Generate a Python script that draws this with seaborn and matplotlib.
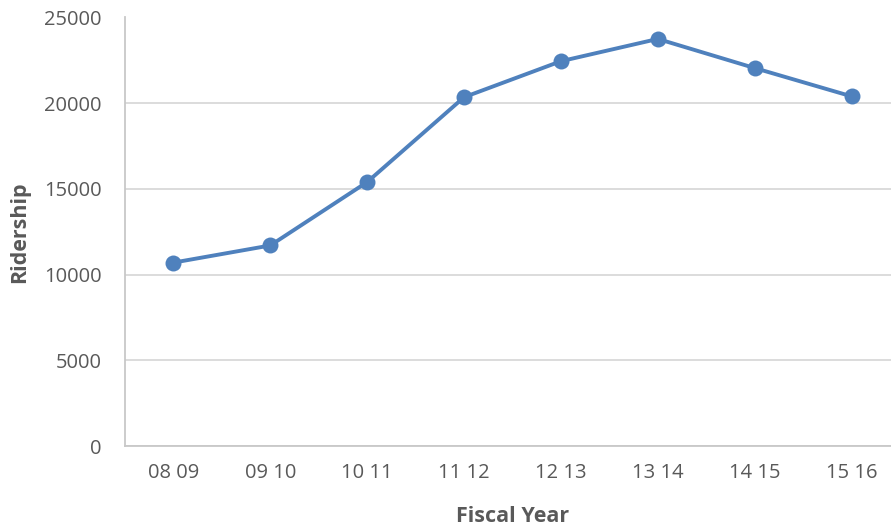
import matplotlib
matplotlib.use("Agg")
import matplotlib.pyplot as plt
import seaborn as sns
import pandas as pd

# data
fiscal_years = ['08 09', '09 10', '10 11', '11 12', '12 13', '13 14', '14 15', '15 16']
ridership = [10700, 11700, 15400, 20350, 22450, 23750, 22050, 20400]
y_ticks = [0, 5000, 10000, 15000, 20000, 25000]

sns.set_theme(style='white')
plt.rcParams['font.family'] = ['Open Sans', 'DejaVu Sans']

df = pd.DataFrame({'Fiscal Year': fiscal_years, 'Ridership': ridership})

text_color = '#595959'
line_color = '#4F81BD'

fig = plt.figure(figsize=(8.91, 5.31), dpi=100)
# plot area runs a little past the right edge of the image, as in the reference
ax = fig.add_axes([125 / 891, 85 / 531, 775 / 891, 428.5 / 531])

sns.lineplot(data=df, x='Fiscal Year', y='Ridership', ax=ax, color=line_color,
             linewidth=2.8, marker='o', markersize=11.5, markeredgewidth=0,
             sort=False)

ax.set_xlim(-0.5, len(fiscal_years) - 0.5)
ax.set_ylim(0, 25000)
ax.set_yticks(y_ticks)
ax.set_yticklabels([str(v) for v in y_ticks])
ax.yaxis.grid(True, color='#D9D9D9', linewidth=1.3)
ax.set_axisbelow(True)

for side in ['top', 'right']:
    ax.spines[side].set_visible(False)
for side in ['left', 'bottom']:
    ax.spines[side].set_color('#C8C8C8')
    ax.spines[side].set_linewidth(1.3)

ax.tick_params(axis='both', length=0, labelsize=14.5, labelcolor=text_color)
ax.tick_params(axis='x', pad=12)
ax.tick_params(axis='y', pad=17)

ax.set_xlabel('Fiscal Year', fontsize=15.5, fontweight='bold', color=text_color, labelpad=17)
ax.set_ylabel('Ridership', fontsize=15.5, fontweight='bold', color=text_color, labelpad=10)

fig.savefig('out.png', dpi=100)
